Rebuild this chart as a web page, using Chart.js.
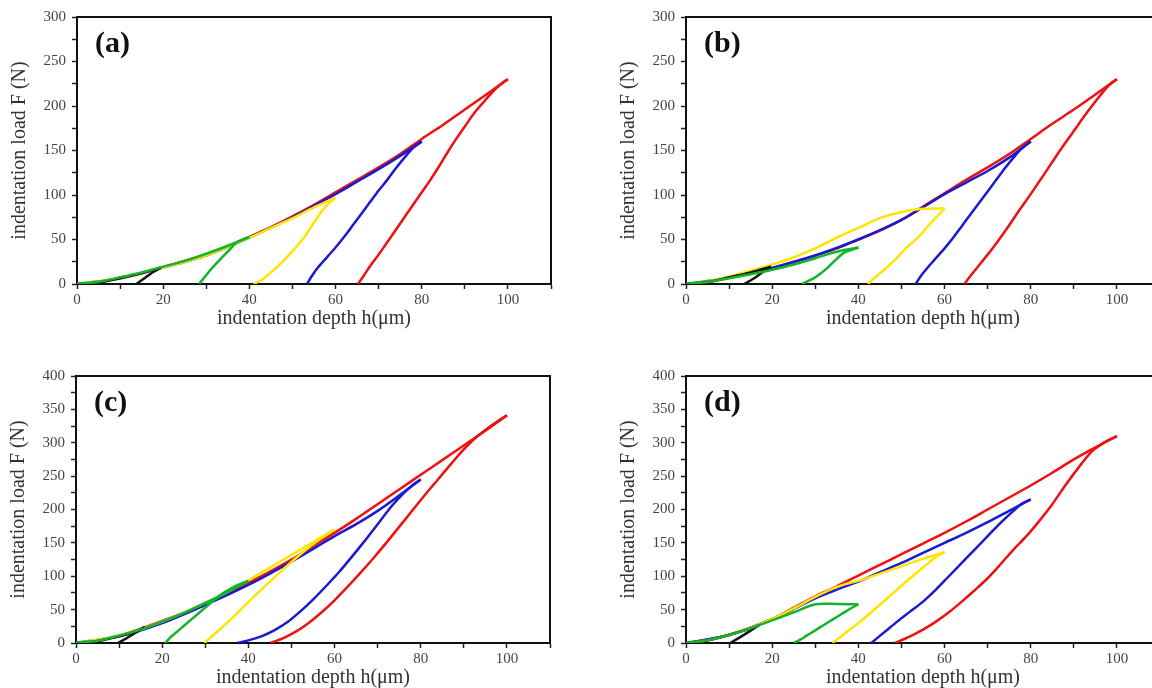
<!DOCTYPE html>
<html>
<head>
<meta charset="utf-8">
<script src="https://cdn.jsdelivr.net/npm/chart.js@4.4.1/dist/chart.umd.min.js"></script>
<style>
  html, body { margin: 0; padding: 0; background: #fff; overflow: hidden; width: 1152px; height: 688px; }
  .panel { position: absolute; width: 576px; height: 344px; }
</style>
</head>
<body>
<div class="panel" style="left:0;top:0"><canvas id="chartA" width="576" height="344"></canvas></div>
<div class="panel" style="left:609px;top:0"><canvas id="chartB" width="576" height="344"></canvas></div>
<div class="panel" style="left:-1px;top:359px"><canvas id="chartC" width="576" height="344"></canvas></div>
<div class="panel" style="left:609px;top:359px"><canvas id="chartD" width="576" height="344"></canvas></div>
<script>
// indentation depth h (um) / load F (N), loading branch then unloading branch
const aBlack = [[0,0],[5,2],[10,6.5],[15,12],[19.5,18.5],[17.5,13],[15.5,6],[13.8,0]];
const aGreen = [[0,0],[5,2.5],[10,7.5],[15,13],[20,19.5],[25,26],[30,34],[35,43],[40,53],
  [38.5,50],[37,46.5],[35.5,39],[34,31.5],[32.5,24],[31,16],[29.5,7],[28.3,0]];
const aYellow = [[0,0],[10,6.5],[20,18.5],[30,32],[40,52],[45,63],[50,74],[55,86],[60,97],
  [58.5,91],[57,83],[55,69],[52.5,51],[50,37],[47.5,24],[45,13],[43,5],[41,0]];
const aBlue = [[0,0],[10,6.5],[20,18.5],[30,32],[40,52],[50,75],[60,101],[65,115],[70,129],[75,144],[80,160],
  [78,153],[76,142],[74,130],[72,117],[70,105],[68,92],[66,79],[64,66],[62,53],[60,41],[58,30],[56,19],[54.5,9],[53.4,0]];
const aRed = [[0,0],[5,2],[10,7],[15,12.5],[20,19],[25,26],[30,33],[35,42],[40,53],[45,64],[50,76],[55,89],[60,103],
  [65,117],[70,131],[75,146],[80,163],[85,179],[90,196],[95,213],[100,230],
  [99,227],[97.3,220],[95,208],[92.5,194],[90,177],[88,163],[86,148],[84,132],[82,117],[80,103],[78,89],[76,75],
  [74,61],[72,47],[70,33],[68,20],[66.5,9],[65.2,0]];

const bBlack = [[0,0],[5,2.5],[10,7.5],[15,13],[19.7,19.5],[18,14],[16,7],[13.5,0]];
const bGreen = [[0,0],[5,2.5],[10,6.5],[15,11],[20,16],[25,22],[30,29],[34,35],[37,38.5],[40,41],
  [38.3,38],[36.6,35],[34.5,26],[32.7,17.5],[31,11],[29.5,6],[28,2.5],[26.8,0]];
const bYellow = [[0,0],[5,3],[10,8.5],[15,15],[20,22],[25,30],[30,40],[35,52],[40,63],[45,74],[50,81],[55,84.5],[60,85],
  [58.5,77],[56.7,68],[54,53],[51,40],[48.5,27],[46,16],[44,8],[42.2,0]];
const bBlue = [[0,0],[10,7],[20,18],[30,32],[40,50],[50,72],[60,101],[65,114],[70,127],[75,142],[80,160],
  [78,153],[76,142],[74,130],[72,117],[70,104],[68,91],[66,78],[64,65],[62,52],[60,40],[58,29],[56,18],[54.5,9],[53.3,0]];
const bRed = [[0,0],[5,2],[10,7],[15,12],[20,18],[25,25],[30,32],[35,40],[40,50],[45,60],[50,72],[55,87],[60,102],
  [65,117],[70,131],[75,146],[80,163],[85,180],[90,196],[95,213],[100,230],
  [98.5,225],[97,217],[95,205],[92.5,189],[90,172],[87.5,155],[85,137],[82.5,119],[80,101],[77.5,84],[75,66],
  [72.5,49],[70,33],[67.5,18],[66,9],[64.6,0]];

const cBlack = [[0,0],[5,3],[10,10],[14,18],[16,24],[14.7,19],[12.2,9],[9.8,0]];
const cGreen = [[0,0],[5,3.5],[10,11],[15,20],[20,32],[25,45],[30,60],[35,76],[40,93],
  [38,88],[36,82],[34,74],[32,64],[30,53],[28,42],[26,31],[24,20],[22,9],[20.7,0]];
const cYellow = [[0,0],[10,11],[20,32],[30,60],[35,76],[40,94],[45,113],[50,132],[55,151],[60,170],
  [58,162],[56,153],[54,143],[51,127],[48,110],[45,92],[42,74],[39,55],[36,36],[33,18],[31,7],[29.8,0]];
const cBlue = [[0,0],[10,10],[20,30],[30,57],[40,87],[50,122],[60,160],[65,178],[70,198],[75,221],[80,245],
  [78,236],[76,224],[73,203],[70,178],[67,153],[64,129],[61,106],[58,85],[55,65],[52,47],[49,31],[46,19],[43,10],[40,4],[37.4,0]];
const cRed = [[0,0],[5,3],[10,11],[15,21],[20,33],[25,45],[30,59],[35,74],[40,90],[45,107],[50,125],[55,145],[60,165],
  [65,186],[70,208],[75,230],[80,252],[85,274],[90,296],[95,318],[100,341],
  [98,333],[96,324],[93,309],[90,290],[87,268],[84,245],[81,222],[78,198],[75,174],[72,150],[69,127],[66,105],
  [63,84],[60,64],[57,46],[54,30],[51,17],[48,7],[45,0]];

const dBlack = [[0,0],[5,4],[10,12],[15,22],[17,27],[15,18.5],[12.5,8.5],[10.3,0]];
const dGreen = [[0,0],[5,4],[10,12],[15,22],[20,34],[25,46],[30,58],[35,58.5],[40,58],
  [38,51],[36,43],[34,35],[32,27],[30,19],[28,11],[26.5,5],[25,0]];
const dYellow = [[0,0],[5,4],[10,12],[15,23],[20,36],[25,52],[30,69],[35,84],[38,90],[40,93],[45,104],[50,115],[55,126],[60,136],
  [58,129],[55,113],[52,97],[49,80],[46,63],[43,46],[40,30],[37,15],[34,0]];
const dBlue = [[0,0],[10,12],[20,36],[30,67],[35,80],[40,92],[45,106],[50,120],[55,135],[60,150],[65,165],[70,181],[75,198],[80,215],
  [78,209],[76,198],[73,180],[70,160],[67,140],[64,120],[61,100],[58,80],[55,62],[52,47],[49,32],[46,16],[43,0]];
const dRed = [[0,0],[5,4],[10,12.5],[15,23],[20,36],[25,53],[30,70],[35,85],[40,101],[45,117],[50,133],[55,149],[60,165],
  [65,182],[70,200],[75,218],[80,236],[85,255],[90,275],[95,293],[100,310],
  [98,304],[96,296],[94,286],[91,262],[88,236],[85,208],[82,183],[79,160],[76,140],[73,118],[70,97],[67,79],
  [64,62],[61,46],[58,32],[55,20],[52,10],[48.5,0]];

const panelLabels = ['(a)', '(b)', '(c)', '(d)'];
const loadMax = [300, 300, 400, 400];
const depthMax = 110;

// line colour and stacking for each maximum depth (20, 40, 60, 80, 100 um)
const curveColors = ['#141414', '#12b52a', '#ffe500', '#1a1ad2', '#f01010'];
const curveOrder = [2, 1, 3, 4, 5];

const serif = '"Liberation Serif", "Times New Roman", serif';

// top/right box edges and the panel letter
const framePlugin = {
  id: 'frame',
  afterDatasetsDraw(chart, args, opts) {
    const { ctx, chartArea: a } = chart;
    ctx.save();
    ctx.strokeStyle = '#111';
    ctx.lineWidth = 2;
    ctx.beginPath();
    ctx.moveTo(a.left, a.top);
    ctx.lineTo(a.right, a.top);
    ctx.lineTo(a.right, a.bottom);
    ctx.stroke();
    ctx.fillStyle = '#111';
    ctx.font = 'bold 30px ' + serif;
    ctx.textBaseline = 'middle';
    ctx.fillText(opts.text, a.left + 18, a.top + 27);
    ctx.restore();
  }
};

function makeDatasets(curves) {
  const sets = [];
  curves.forEach((pts, i) => {
    // split each loop at its deepest point so the tip stays sharp
    let peak = 0;
    pts.forEach((p, j) => { if (p[0] > pts[peak][0]) peak = j; });
    const toXY = p => ({ x: p[0], y: p[1] });
    [pts.slice(0, peak + 1), pts.slice(peak)].forEach(part => {
      sets.push({
        data: part.map(toXY),
        showLine: true,
        borderColor: curveColors[i],
        backgroundColor: curveColors[i],
        borderWidth: 2.5,
        tension: 0.3,
        pointRadius: 0,
        order: curveOrder[i]
      });
    });
  });
  return sets;
}

function buildChart(id, idx, curves) {
  const tickFont = { family: serif, size: 15 };
  const titleFont = { family: serif, size: 20 };
  return new Chart(document.getElementById(id), {
    type: 'scatter',
    data: { datasets: makeDatasets(curves) },
    options: {
      responsive: false,
      animation: false,
      layout: { padding: { top: 17, right: 25, left: 0, bottom: 0 } },
      plugins: {
        legend: { display: false },
        tooltip: { enabled: false },
        frame: { text: panelLabels[idx] }
      },
      scales: {
        x: {
          type: 'linear',
          min: 0,
          max: depthMax,
          ticks: {
            stepSize: 10,
            autoSkip: false,
            maxRotation: 0,
            padding: 2,
            color: '#444',
            font: tickFont,
            callback: v => (v % 20 === 0 && v <= 100 ? v : '')
          },
          grid: { drawOnChartArea: false, tickLength: 5, tickWidth: 1.5, tickColor: '#222' },
          border: { color: '#111', width: 2 },
          title: {
            display: true,
            text: 'indentation depth h(μm)',
            color: '#333',
            font: titleFont,
            padding: { top: 0, bottom: 13 }
          },
          afterFit: s => { s.height = 60; }
        },
        y: {
          type: 'linear',
          min: 0,
          max: loadMax[idx],
          ticks: {
            stepSize: 25,
            autoSkip: false,
            padding: 6,
            color: '#444',
            font: tickFont,
            callback: v => (v % 50 === 0 ? v : '')
          },
          grid: { drawOnChartArea: false, tickLength: 5, tickWidth: 1.5, tickColor: '#222' },
          border: { color: '#111', width: 2 },
          title: {
            display: true,
            text: 'indentation load F (N)',
            color: '#333',
            font: titleFont,
            padding: { top: 8, bottom: 0 }
          },
          afterFit: s => { s.width = 77; }
        }
      }
    },
    plugins: [framePlugin]
  });
}

buildChart('chartA', 0, [aBlack, aGreen, aYellow, aBlue, aRed]);
buildChart('chartB', 1, [bBlack, bGreen, bYellow, bBlue, bRed]);
buildChart('chartC', 2, [cBlack, cGreen, cYellow, cBlue, cRed]);
buildChart('chartD', 3, [dBlack, dGreen, dYellow, dBlue, dRed]);
</script>
</body>
</html>
